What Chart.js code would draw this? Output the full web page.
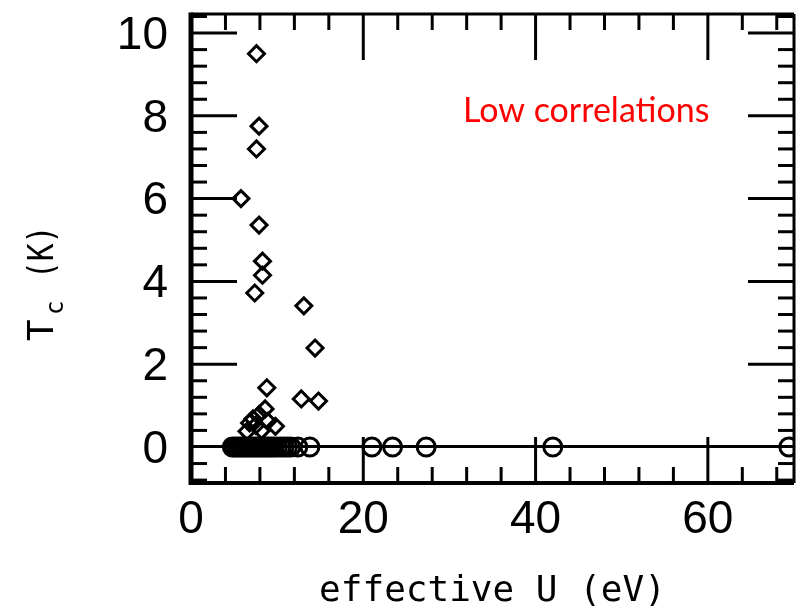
<!DOCTYPE html>
<html>
<head>
<meta charset="utf-8">
<script src="https://cdn.jsdelivr.net/npm/chart.js@4.4.1/dist/chart.umd.min.js"></script>
<style>
  html, body { margin: 0; padding: 0; background: #fff; }
</style>
</head>
<body>
<canvas id="chart" width="806" height="611"></canvas>
<script>
// superconductors (Tc > 0) – diamonds
const diamondU  = [7.6, 7.9, 7.6, 5.8, 7.9, 8.3, 8.3, 7.4, 13.1, 14.4, 8.8, 12.8, 14.8, 8.6, 9.8,
                   6.5, 6.8, 7.2, 7.5, 7.9, 8.2, 8.9];
const diamondTc = [9.5, 7.75, 7.2, 6.0, 5.36, 4.49, 4.15, 3.72, 3.41, 2.39, 1.43, 1.16, 1.11, 0.92, 0.5,
                   0.38, 0.58, 0.68, 0.52, 0.78, 0.4, 0.62];
// non-superconducting (Tc = 0) – circles
const circleU  = [4.8, 5.1, 5.4, 5.7, 6.0, 6.3, 6.6, 6.9, 7.2, 7.5, 7.8, 8.1, 8.4, 8.7, 9.0, 9.3,
                  9.6, 10.0, 10.4, 10.8, 11.2, 11.6, 12.4, 13.8, 21.0, 23.4, 27.3, 42.0, 69.4];
const circleTc = circleU.map(() => 0);

const xTickLabels = [0, 20, 40, 60];
const yTickLabels = [0, 2, 4, 6, 8, 10];

function line(ctx, x1, y1, x2, y2) {
  ctx.beginPath();
  ctx.moveTo(x1, y1);
  ctx.lineTo(x2, y2);
  ctx.stroke();
}

const frameTicks = {
  id: 'frameTicks',
  afterDatasetsDraw(chart) {
    const {ctx, chartArea: a, scales: {x, y}} = chart;
    ctx.save();
    ctx.strokeStyle = '#000';
    ctx.lineWidth = 3;
    // inner ticks along top and bottom
    for (let v = 4; v < 70; v += 4) {
      const px = x.getPixelForValue(v);
      const len = v % 20 === 0 ? 46 : 16;
      line(ctx, px, a.top, px, a.top + len);
      line(ctx, px, a.bottom, px, a.bottom - len);
    }
    // inner ticks along left and right
    for (let i = -2; i <= 26; i++) {
      if (i === 0) continue;
      const py = y.getPixelForValue(i * 0.4);
      const len = i % 5 === 0 ? 46 : 16;
      line(ctx, a.left, py, a.left + len, py);
      line(ctx, a.right, py, a.right - len, py);
    }
    // frame
    ctx.lineWidth = 5;
    line(ctx, a.left, a.top - 1.5, a.left, a.bottom + 2);
    ctx.lineWidth = 3;
    line(ctx, a.left, a.top, a.right, a.top);
    line(ctx, a.right, a.top, a.right, a.bottom);
    ctx.lineWidth = 4;
    line(ctx, a.left, a.bottom, a.right, a.bottom);

    // annotation
    ctx.fillStyle = '#ff0000';
    ctx.font = '34px Lato';
    ctx.textBaseline = 'alphabetic';
    ctx.textAlign = 'left';
    ctx.fillText('Low correlations', 463, 122);

    // y axis title with subscript
    ctx.fillStyle = '#000';
    ctx.translate(53, 341);
    ctx.rotate(-Math.PI / 2);
    ctx.font = '36px "DejaVu Sans Mono"';
    ctx.fillText('T', 0, 0);
    ctx.font = '24px "DejaVu Sans Mono"';
    ctx.fillText('c', 26, 10);
    ctx.font = '36px "DejaVu Sans Mono"';
    ctx.translate(62, 0);
    ctx.scale(0.82, 1);
    ctx.fillText('(K)', 0, 0);
    ctx.restore();
  }
};

new Chart(document.getElementById('chart'), {
  type: 'scatter',
  data: {
    datasets: [{
      data: diamondU.map((u, i) => ({x: u, y: diamondTc[i]})),
      pointStyle: 'rectRot',
      radius: 8,
      borderWidth: 3,
      borderColor: '#000',
      backgroundColor: 'rgba(0,0,0,0)'
    }, {
      data: circleU.map((u, i) => ({x: u, y: circleTc[i]})),
      pointStyle: 'circle',
      radius: 9,
      borderWidth: 3,
      borderColor: '#000',
      backgroundColor: 'rgba(0,0,0,0)'
    }]
  },
  options: {
    responsive: false,
    animation: false,
    layout: { padding: { top: 14, right: 1, left: 0, bottom: 0 } },
    plugins: { legend: { display: false }, tooltip: { enabled: false } },
    scales: {
      x: {
        type: 'linear',
        min: 0,
        max: 70,
        afterBuildTicks: scale => { scale.ticks = xTickLabels.map(v => ({value: v})); },
        afterFit: scale => {
          scale.height = 128;
          scale.paddingLeft = 0;
          scale.paddingRight = 0;
        },
        border: { display: false },
        grid: { display: false, drawTicks: false },
        ticks: {
          autoSkip: false,
          maxRotation: 0,
          padding: 10,
          color: '#000',
          font: { family: 'Liberation Sans', size: 46 }
        },
        title: {
          display: true,
          text: 'effective U (eV)',
          color: '#000',
          font: { family: 'DejaVu Sans Mono', size: 36 },
          padding: { top: 0, bottom: -2 }
        }
      },
      y: {
        min: -0.87,
        max: 10.46,
        afterBuildTicks: scale => { scale.ticks = yTickLabels.map(v => ({value: v})); },
        afterFit: scale => {
          scale.width = 191;
          scale.paddingTop = 0;
          scale.paddingBottom = 0;
        },
        border: { display: false },
        grid: {
          drawTicks: false,
          color: c => c.tick && c.tick.value === 0 ? '#000' : 'rgba(0,0,0,0)',
          lineWidth: c => c.tick && c.tick.value === 0 ? 3 : 0
        },
        ticks: {
          autoSkip: false,
          padding: 23,
          labelOffset: 3,
          color: '#000',
          font: { family: 'Liberation Sans', size: 46 }
        }
      }
    }
  },
  plugins: [frameTicks]
});
</script>
</body>
</html>
